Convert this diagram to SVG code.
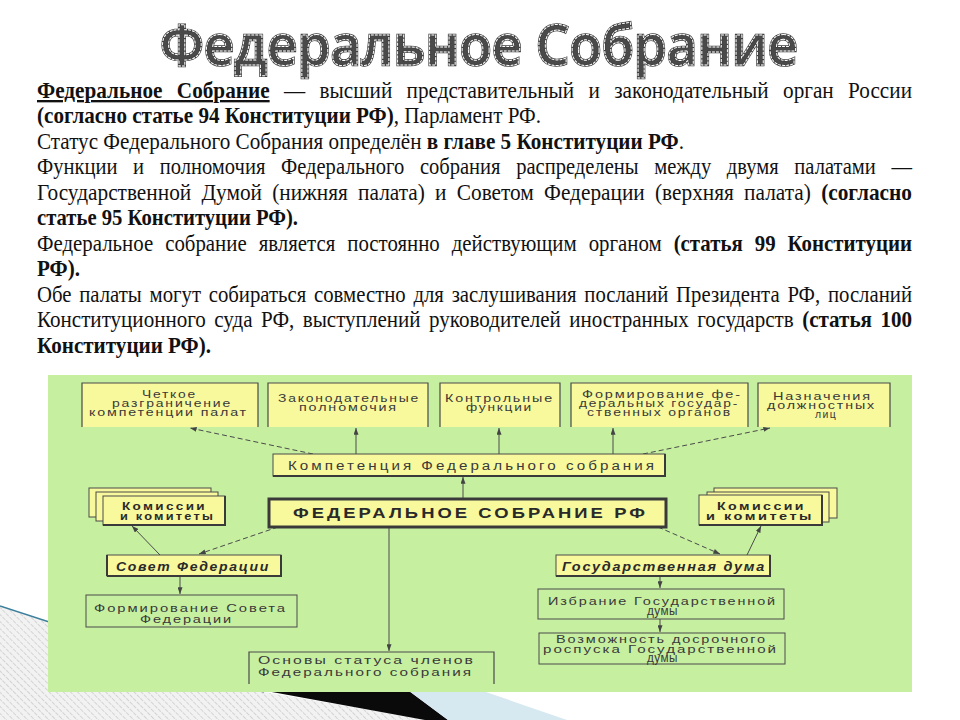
<svg xmlns="http://www.w3.org/2000/svg" width="960" height="720" viewBox="0 0 960 720">
<defs>
<pattern id="hatch" width="5" height="5" patternUnits="userSpaceOnUse" patternTransform="rotate(-45)">
<rect width="5" height="5" fill="#f2f2f2"/>
<line x1="0" y1="0" x2="0" y2="5" stroke="#b4b4b4" stroke-width="1" stroke-dasharray="2 1"/>
</pattern>
<marker id="ah" viewBox="0 0 8 6" refX="8" refY="3" markerWidth="7" markerHeight="5" markerUnits="userSpaceOnUse" orient="auto">
<path d="M0,0 L8,3 L0,6 Z" fill="#444"/>
</marker>
</defs>
<style>
.body{font-family:"Liberation Serif","Times New Roman",serif;font-size:23.5px;fill:#111}
.b{font-weight:bold}
.title{font-family:"Open Sans","Noto Sans","DejaVu Sans",sans-serif;font-size:56px;font-weight:600}
.lbl{font-family:"Liberation Sans",Arial,sans-serif;font-size:11.5px;letter-spacing:1.5px;fill:#3a3a3a}
.lblb{font-family:"Liberation Sans",Arial,sans-serif;font-size:11.5px;letter-spacing:2px;font-weight:bold;fill:#2a2a2a}
.lbli{font-family:"Liberation Sans",Arial,sans-serif;font-size:12.5px;letter-spacing:1.5px;font-weight:bold;font-style:italic;fill:#2a2a2a}
.ybox{fill:#f8f89c;stroke:#4a4a4a;stroke-width:1}
.gbox{fill:#c6efa0;stroke:#4a4a4a;stroke-width:1}
.edge{fill:none;stroke:#4a4a4a;stroke-width:1.2}
.sh{stroke:#3a3a3a;stroke-width:2;fill:none}
.c{stroke:#4a4a4a;stroke-width:1;fill:none;marker-end:url(#ah)}
.d{stroke:#4a4a4a;stroke-width:1;fill:none;stroke-dasharray:5 3;marker-end:url(#ah)}
</style>
<rect width="960" height="720" fill="#ffffff"/>
<!-- background decoration -->
<polygon points="0,606 264,692 430,720 0,720" fill="url(#hatch)"/>
<polygon points="250,688 405,688 448,720 425,720" fill="#0a0a0a"/>
<polygon points="405,688 480,690 567,720 448,720" fill="#d6e8f0"/>
<line x1="0" y1="606" x2="264" y2="692" stroke="#3c7f9c" stroke-width="1.5"/>
<!-- title -->
<g id="title">
<text class="title" x="160" y="65" textLength="638" lengthAdjust="spacingAndGlyphs" fill="#4a4a4a" stroke="#404040" stroke-width="2.5">Федеральное Собрание</text>
<text class="title" x="160" y="65" textLength="638" lengthAdjust="spacingAndGlyphs" fill="none" stroke="#ffffff" stroke-width="1" stroke-dasharray="3 1.2">Федеральное Собрание</text>
</g>
<!-- body text -->
<g id="bodytext">
<text class="body" x="37" y="98" textLength="875" lengthAdjust="spacingAndGlyphs" word-spacing="10"><tspan class="b" text-decoration="underline">Федеральное Собрание</tspan> — высший представительный и законодательный орган России</text>
<text class="body" x="37" y="123" textLength="504" lengthAdjust="spacingAndGlyphs"><tspan class="b">(согласно статье 94 Конституции РФ)</tspan>, Парламент РФ.</text>
<text class="body" x="37" y="149" textLength="647" lengthAdjust="spacingAndGlyphs">Статус Федерального Собрания определён <tspan class="b">в главе 5 Конституции РФ</tspan>.</text>
<text class="body" x="37" y="174" textLength="875" lengthAdjust="spacingAndGlyphs" word-spacing="12">Функции и полномочия Федерального собрания распределены между двумя палатами —</text>
<text class="body" x="37" y="200" textLength="875" lengthAdjust="spacingAndGlyphs" word-spacing="5.4">Государственной Думой (нижняя палата) и Советом Федерации (верхняя палата) <tspan class="b">(согласно</tspan></text>
<text class="body b" x="37" y="225" textLength="261" lengthAdjust="spacingAndGlyphs">статье 95 Конституции РФ).</text>
<text class="body" x="37" y="251" textLength="875" lengthAdjust="spacingAndGlyphs" word-spacing="7.6">Федеральное собрание является постоянно действующим органом <tspan class="b">(статья 99 Конституции</tspan></text>
<text class="body b" x="37" y="276" textLength="43" lengthAdjust="spacingAndGlyphs">РФ).</text>
<text class="body" x="37" y="302" textLength="875" lengthAdjust="spacingAndGlyphs" word-spacing="2.9">Обе палаты могут собираться совместно для заслушивания посланий Президента РФ, посланий</text>
<text class="body" x="37" y="327" textLength="875" lengthAdjust="spacingAndGlyphs" word-spacing="3.5">Конституционного суда РФ, выступлений руководителей иностранных государств <tspan class="b">(статья 100</tspan></text>
<text class="body b" x="37" y="353" textLength="174" lengthAdjust="spacingAndGlyphs">Конституции РФ).</text>
</g>
<!-- diagram panel -->
<rect id="panel" x="48" y="375" width="864" height="317" fill="#c6efa0"/>
<g id="connectors">
<line class="c" x1="463" y1="499" x2="463" y2="477"/>
<line class="c" x1="356" y1="454" x2="356" y2="428"/>
<line class="c" x1="499" y1="454" x2="499" y2="428"/>
<line class="c" x1="613" y1="454" x2="613" y2="428"/>
<line class="d" x1="313" y1="454" x2="190" y2="428"/>
<line class="d" x1="643" y1="454" x2="770" y2="428"/>
<line class="d" x1="278" y1="527" x2="199" y2="554"/>
<line class="c" x1="160" y1="555" x2="132" y2="526"/>
<line class="d" x1="658" y1="527" x2="720" y2="554"/>
<line class="c" x1="747" y1="555" x2="761" y2="526"/>
<line class="c" x1="389" y1="527" x2="389" y2="651"/>
<line class="c" x1="180" y1="576" x2="180" y2="594" stroke-width="2"/>
<line class="c" x1="660" y1="576" x2="660" y2="588"/>
<line class="c" x1="660" y1="619" x2="660" y2="632"/>
</g>
<g id="n-razgr">
<rect x="82" y="383" width="176" height="44" fill="#f8f89c"/>
<path class="edge" d="M82,427 V383 H258 V427"/>
<text class="lbl" x="142" y="398" textLength="55" lengthAdjust="spacingAndGlyphs">Четкое</text>
<text class="lbl" x="112" y="407" textLength="120" lengthAdjust="spacingAndGlyphs">разграничение</text>
<text class="lbl" x="89" y="416" textLength="159" lengthAdjust="spacingAndGlyphs">компетенции  палат</text>
</g>
<g id="n-zakon">
<rect x="268" y="383" width="160" height="44" fill="#f8f89c"/>
<path class="edge" d="M268,427 V383 H428 V427"/>
<text class="lbl" x="278" y="402" textLength="142" lengthAdjust="spacingAndGlyphs">Законодательные</text>
<text class="lbl" x="299" y="411" textLength="99" lengthAdjust="spacingAndGlyphs">полномочия</text>
</g>
<g id="n-kontrol">
<rect x="440" y="383" width="120" height="44" fill="#f8f89c"/>
<path class="edge" d="M440,427 V383 H560 V427"/>
<text class="lbl" x="445" y="402" textLength="109" lengthAdjust="spacingAndGlyphs">Контрольные</text>
<text class="lbl" x="466" y="411" textLength="67" lengthAdjust="spacingAndGlyphs">функции</text>
</g>
<g id="n-formir">
<rect x="571" y="383" width="177" height="44" fill="#f8f89c"/>
<path class="edge" d="M571,427 V383 H748 V427"/>
<text class="lbl" x="582" y="398" textLength="160" lengthAdjust="spacingAndGlyphs">Формирование фе-</text>
<text class="lbl" x="579" y="407" textLength="160" lengthAdjust="spacingAndGlyphs">деральных государ-</text>
<text class="lbl" x="587" y="416" textLength="145" lengthAdjust="spacingAndGlyphs">ственных органов</text>
</g>
<g id="n-naznach">
<rect x="758" y="383" width="132" height="44" fill="#f8f89c"/>
<path class="edge" d="M758,427 V383 H890 V427"/>
<text class="lbl" x="773" y="400" textLength="99" lengthAdjust="spacingAndGlyphs">Назначения</text>
<text class="lbl" x="767" y="409" textLength="109" lengthAdjust="spacingAndGlyphs">должностных</text>
<text class="lbl" x="815" y="418" textLength="22" lengthAdjust="spacingAndGlyphs">лиц</text>
</g>
<g id="n-komp">
<rect class="ybox" x="273" y="454" width="392" height="22"/>
<path class="sh" d="M273,476 H665 V454"/>
<text class="lbl" x="288" y="470" textLength="369" lengthAdjust="spacingAndGlyphs" style="font-size:12.5px;letter-spacing:2.5px">Компетенция  Федерального  собрания</text>
</g>
<g id="n-fs">
<rect x="269" y="499" width="397" height="28" fill="#f8f89c" stroke="#3a3a3a" stroke-width="3"/>
<text class="lblb" x="293" y="518" textLength="355" lengthAdjust="spacingAndGlyphs" style="font-size:15px;letter-spacing:2.5px">ФЕДЕРАЛЬНОЕ  СОБРАНИЕ  РФ</text>
</g>
<g id="n-kom-left">
<rect class="ybox" x="89" y="488" width="122" height="29"/>
<rect class="ybox" x="96" y="492" width="122" height="29"/>
<rect class="ybox" x="103" y="496" width="122" height="29"/>
<path class="sh" d="M103,525 H225 V496" stroke-width="1.5"/>
<text class="lblb" x="122" y="509.5" textLength="85" lengthAdjust="spacingAndGlyphs">Комиссии</text>
<text class="lblb" x="120" y="519.5" textLength="95" lengthAdjust="spacingAndGlyphs">и  комитеты</text>
</g>
<g id="n-kom-right">
<rect class="ybox" x="714" y="488" width="123" height="30"/>
<rect class="ybox" x="707" y="492" width="122" height="30"/>
<rect class="ybox" x="699" y="495" width="123" height="30"/>
<path class="sh" d="M699,525 H822 V495" stroke-width="1.5"/>
<text class="lblb" x="717" y="509.5" textLength="89" lengthAdjust="spacingAndGlyphs">Комиссии</text>
<text class="lblb" x="706" y="519.5" textLength="108" lengthAdjust="spacingAndGlyphs">и  комитеты</text>
</g>
<g id="n-sf">
<rect class="ybox" x="107" y="555" width="174" height="21"/>
<path class="sh" d="M107,576 V555 M107,576 H281 V555"/>
<text class="lbli" x="116" y="571" textLength="154" lengthAdjust="spacingAndGlyphs">Совет  Федерации</text>
</g>
<g id="n-gd">
<rect class="ybox" x="556" y="555" width="214" height="21"/>
<path class="sh" d="M556,576 H770 V555"/>
<text class="lbli" x="562" y="571" textLength="204" lengthAdjust="spacingAndGlyphs">Государственная  дума</text>
</g>
<g id="n-form-sf">
<rect class="gbox" x="86" y="595" width="211" height="32"/>
<text class="lbl" x="94" y="612" textLength="193" lengthAdjust="spacingAndGlyphs" fill="#444">Формирование  Совета</text>
<text class="lbl" x="140" y="623" textLength="93" lengthAdjust="spacingAndGlyphs" fill="#444">Федерации</text>
</g>
<g id="n-osnovy">
<path class="edge" d="M249,684 V652 H494 V684" stroke-width="1"/>
<text class="lbl" x="258" y="664" textLength="217" lengthAdjust="spacingAndGlyphs" fill="#444">Основы  статуса  членов</text>
<text class="lbl" x="258" y="676" textLength="215" lengthAdjust="spacingAndGlyphs" fill="#444">Федерального  собрания</text>
</g>
<g id="n-izbr">
<rect class="gbox" x="538" y="589" width="246" height="30" stroke-width="1.2"/>
<text class="lbl" x="548" y="605" textLength="229" lengthAdjust="spacingAndGlyphs" fill="#444">Избрание  Государственной</text>
<text class="lbl" x="647" y="615" textLength="31" lengthAdjust="spacingAndGlyphs" fill="#444" style="letter-spacing:0.5px;font-size:12px">думы</text>
</g>
<g id="n-rospusk">
<rect class="gbox" x="539" y="633" width="246" height="31" stroke-width="1.2"/>
<text class="lbl" x="556" y="643" textLength="211" lengthAdjust="spacingAndGlyphs" fill="#444">Возможность  досрочного</text>
<text class="lbl" x="543" y="653" textLength="235" lengthAdjust="spacingAndGlyphs" fill="#444">роспуска  Государственной</text>
<text class="lbl" x="647" y="662" textLength="31" lengthAdjust="spacingAndGlyphs" fill="#444" style="letter-spacing:0.5px;font-size:12px">думы</text>
</g>
</svg>
